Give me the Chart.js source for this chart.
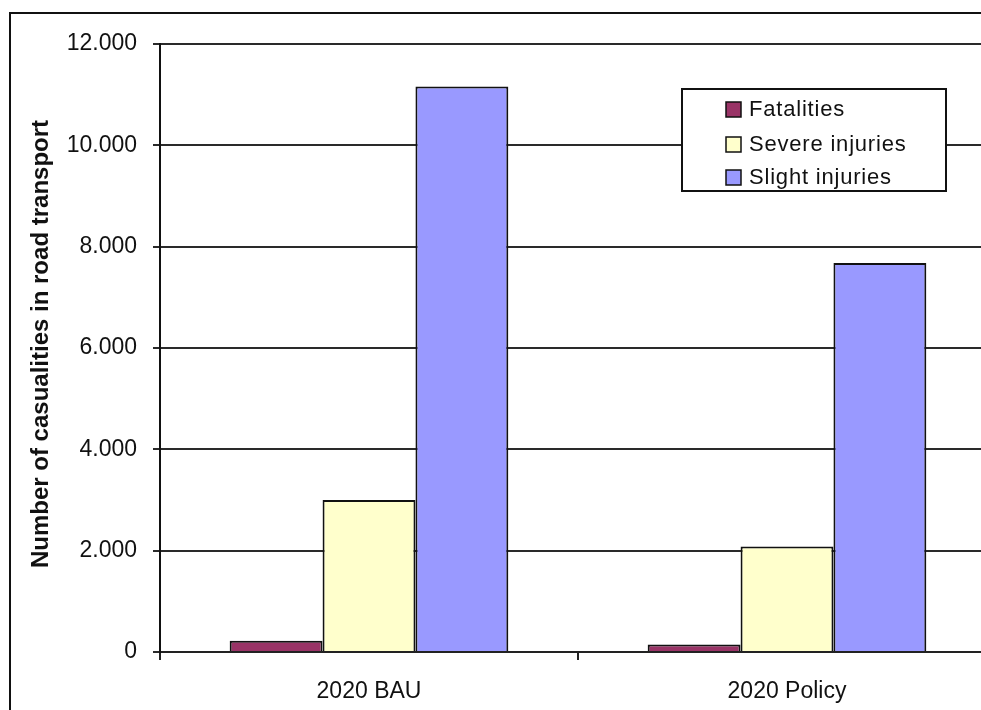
<!DOCTYPE html>
<html>
<head>
<meta charset="utf-8">
<script src="https://cdn.jsdelivr.net/npm/chart.js@4/dist/chart.umd.min.js"></script>
<style>
  html, body { margin: 0; padding: 0; background: #fff; overflow: hidden; width: 981px; height: 710px; }
  #frame { position: absolute; left: 9px; top: 12px; width: 1100px; height: 800px; border: 2px solid #111; box-sizing: border-box; }
  #c { position: absolute; left: 0; top: 0; }
</style>
</head>
<body>
<div id="frame"></div>
<canvas id="c" width="1040" height="760"></canvas>
<script>
// Road transport casualties in 2020, business-as-usual vs. policy scenario
const categories = ['2020 BAU', '2020 Policy'];
const fatalities = [220, 150];
const severeInjuries = [3000, 2080];
const slightInjuries = [11160, 7680];
const seriesNames = ['Fatalities', 'Severe injuries', 'Slight injuries'];
const seriesColors = ['#993366', '#FFFFCC', '#9999FF'];
const yTitle = 'Number of casualities in road transport';
const yTickStep = 2000;
const yMax = 12000;

const FONT = '"Liberation Sans", Arial, sans-serif';

function thousands(v) {
  return String(v).replace(/\B(?=(\d{3})+(?!\d))/g, '.');
}

// Vertical axis title and the boxed legend in the upper right of the plot
const decorations = {
  id: 'decorations',
  afterDraw(chart) {
    const ctx = chart.ctx;
    ctx.save();
    ctx.font = 'bold 24px ' + FONT;
    ctx.fillStyle = '#111';
    ctx.textAlign = 'center';
    ctx.textBaseline = 'middle';
    ctx.translate(41, 344);
    ctx.rotate(-Math.PI / 2);
    ctx.fillText(yTitle, 0, 0);
    ctx.restore();

    // legend box
    const bx = 682, by = 89, bw = 264, bh = 102;
    ctx.save();
    ctx.fillStyle = '#fff';
    ctx.fillRect(bx, by, bw, bh);
    ctx.lineWidth = 2;
    ctx.strokeStyle = '#111';
    ctx.strokeRect(bx, by, bw, bh);
    ctx.font = '22px ' + FONT;
    ctx.textAlign = 'left';
    ctx.textBaseline = 'middle';
    if ('letterSpacing' in ctx) ctx.letterSpacing = '0.8px';
    const rows = [109, 144, 177];
    chart.data.datasets.forEach((ds, i) => {
      const cy = rows[i];
      ctx.fillStyle = ds.backgroundColor;
      ctx.fillRect(726, cy - 7, 15, 15);
      ctx.lineWidth = 1.5;
      ctx.strokeStyle = '#111';
      ctx.strokeRect(726, cy - 7, 15, 15);
      ctx.fillStyle = '#111';
      ctx.fillText(ds.label, 749, cy + 1);
    });
    ctx.restore();
  }
};

new Chart(document.getElementById('c'), {
  type: 'bar',
  data: {
    labels: categories,
    datasets: [
      { label: seriesNames[0], data: fatalities, backgroundColor: seriesColors[0] },
      { label: seriesNames[1], data: severeInjuries, backgroundColor: seriesColors[1] },
      { label: seriesNames[2], data: slightInjuries, backgroundColor: seriesColors[2] }
    ].map(d => Object.assign(d, {
      borderColor: '#111',
      borderWidth: 2,
      categoryPercentage: 2 / 3,
      barPercentage: 1
    }))
  },
  options: {
    responsive: false,
    animation: false,
    devicePixelRatio: 1,
    layout: { padding: { left: 0, top: 44, right: 44, bottom: 48 } },
    plugins: {
      legend: { display: false },
      tooltip: { enabled: false },
      title: { display: false }
    },
    scales: {
      x: {
        offset: true,
        afterFit(scale) { scale.height = 60; },
        grid: {
          offset: true,
          drawOnChartArea: false,
          drawTicks: true,
          tickLength: 8,
          color: '#222',
          lineWidth: 2
        },
        border: { display: true, color: '#222', width: 2 },
        ticks: {
          color: '#111',
          padding: 18,
          font: { family: FONT, size: 23 }
        }
      },
      y: {
        min: 0,
        max: yMax,
        afterFit(scale) { scale.width = 160; },
        grid: {
          color: '#2a2a2a',
          lineWidth: 2,
          drawTicks: true,
          tickLength: 7
        },
        border: { display: true, color: '#111', width: 2 },
        ticks: {
          stepSize: yTickStep,
          color: '#111',
          padding: 16,
          font: { family: FONT, size: 23 },
          callback: v => thousands(v)
        }
      }
    }
  },
  plugins: [decorations]
});
</script>
</body>
</html>
